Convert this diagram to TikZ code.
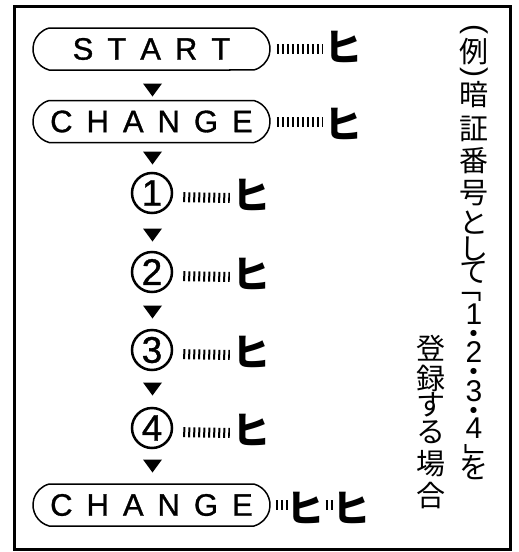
\documentclass[tikz,border=0pt]{standalone}
\usepackage{fontspec}
\setmainfont{Liberation Sans}
\newfontfamily\cjk{Noto Sans CJK JP}
\newfontfamily\heavy[FakeBold=1]{Liberation Sans}
\usetikzlibrary{shapes.misc}
\newcommand\spc{\hspace{14pt}}
\tikzstyle{pill}=[draw,line width=1.5pt,rounded rectangle,rounded rectangle arc length=150,minimum width=237pt,minimum height=42pt,inner sep=0pt,font=\fontsize{31}{31}\selectfont\heavy]
\tikzstyle{num} =[draw,circle,line width=2.5pt,minimum size=40pt,inner sep=0pt,font=\fontsize{37}{37}\selectfont\heavy]
\tikzstyle{beep}=[inner sep=0pt,font=\fontsize{38}{38}\selectfont\cjk\bfseries]
\tikzstyle{tick}=[line width=10pt,dash pattern=on 2pt off 3pt]
\tikzstyle{col} =[inner sep=0pt,font=\fontsize{29}{29}\selectfont\cjk]
\tikzstyle{dig} =[inner sep=0pt,font=\fontsize{30}{30}\selectfont]
\tikzset{tri/.pic={\fill (-9.5,-6.5) -- (9.5,-6.5) -- (0,6.5) -- cycle;}}

\begin{document}
\begin{tikzpicture}[x=1pt,y=-1pt]
	\useasboundingbox (0,0) rectangle (519,552);
	\draw[line width=3pt] (14.5,6) rectangle (510.5,549.5);
	% steps
	\node[pill] (start)  at (151.5,49)  {S\spc T\spc A\spc R\spc T};
	\node[pill] (chg)    at (151.5,121.5) {C\spc H\spc A\spc N\spc G\spc E};
	\node[pill] (chgend) at (151.5,505) {C\spc H\spc A\spc N\spc G\spc E};
	\foreach \i/\y in {1/193,2/272,3/350,4/428}
	  \node[num] (n\i) at (152,\y) {\i};
	\foreach \y in {90,158,235,312,389,466}
	  \pic at (152.5,\y) {tri};
	% beeps
	\node[beep] (bs) at (343.5,46.5) {ヒ};
	\node[beep] (bc) at (343.5,124) {ヒ};
	\draw[tick,shorten <=6pt,shorten >=2pt] (start.east) -- (start.east -| bs.west);
	\draw[tick,shorten <=6pt,shorten >=2pt] (chg.east) -- (chg.east -| bc.west);
	\foreach \i/\y in {1/195,2/274,3/352,4/430} {
	  \node[beep] (b\i) at (251,\y) {ヒ};
	  \draw[tick,shorten <=10pt,shorten >=2pt] (n\i.east) ++(0,4) -- (b\i.west |- 0,\y+3);
	}
	\node[beep] (be1) at (305.5,508) {ヒ};
	\node[beep] (be2) at (351,508) {ヒ};
	\draw[tick,shorten <=5pt] (chgend.east) -- ([xshift=2.5pt]chgend.east -| be1.west);
	\draw[tick,shorten <=1pt] (be1.east |- chgend.east) -- ([xshift=1pt]chgend.east -| be2.west);
	% note, first column
	\node[dig,rotate=-90] (p1) at (474,29) {(};
	\node[dig,rotate=-90] (p2) at (474,72) {)};
	\foreach \c/\y [count=\k] in {例/51.5,暗/95,証/128.5,番/161,号/193,と/223,し/249,て/272,・/337,・/375,・/414,を/467.5}
	  \node[col] (v\k) at (474,\y) {\c};
	\foreach \c/\y in {1/314,2/352.5,3/391,4/428.5}
	  \node[dig] (d\c) at (474,\y) {\c};
	\node[col,rotate=-90] (q1) at (469,288) {「};
	\node[col,rotate=-90] (q2) at (474,458) {」};
	% note, second column
	\foreach \c/\y [count=\k] in {登/348,録/378,す/405,る/432,場/464,合/496}
	  \node[col] (w\k) at (431,\y) {\c};
\end{tikzpicture}
\end{document}
